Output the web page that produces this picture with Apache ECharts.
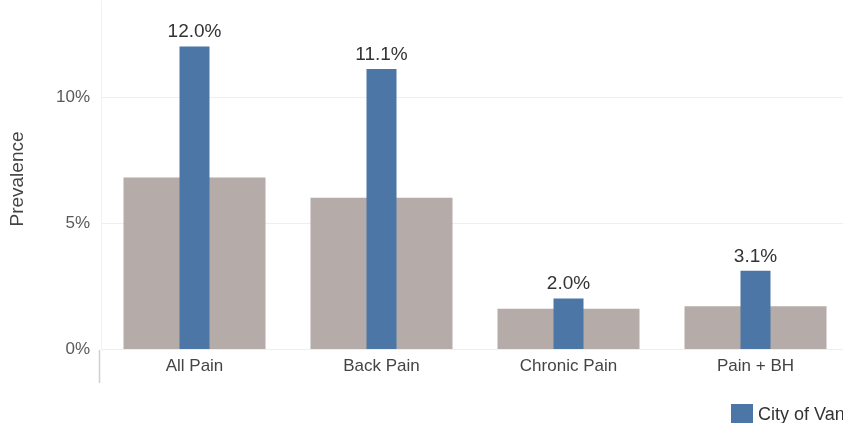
<!DOCTYPE html>
<html>
<head>
<meta charset="utf-8">
<script src="https://cdn.jsdelivr.net/npm/echarts@6/dist/echarts.min.js"></script>
<style>html,body{margin:0;padding:0;background:#fff;}#c{width:843px;height:423px;}</style>
</head>
<body>
<div id="c"></div>
<script>
const categories = ['All Pain', 'Back Pain', 'Chronic Pain', 'Pain + BH'];
const comparisonValues = [6.8, 6.0, 1.6, 1.7];
const cityValues = [12.0, 11.1, 2.0, 3.1];
const yTicks = [0, 5, 10];
const citySeriesName = 'City of Vancouver';
const comparisonSeriesName = 'Comparison';

const FONT = 'Liberation Sans, Arial, sans-serif';
const chart = echarts.init(document.getElementById('c'), null, {renderer: 'canvas'});
chart.setOption({
  animation: false,
  textStyle: {fontFamily: FONT},
  grid: {left: 101, right: -6, top: 1, bottom: 74, containLabel: false, outerBoundsMode: 'none'},
  legend: {
    data: [citySeriesName],
    left: 726, top: 399,
    icon: 'rect', itemWidth: 22, itemHeight: 22, itemGap: 10,
    textStyle: {fontSize: 18, color: '#333'}
  },
  xAxis: [{
    type: 'category',
    data: categories,
    axisLine: {show: false},
    axisTick: {show: false},
    axisLabel: {fontSize: 17, color: '#444', margin: 9}
  }, {
    type: 'category',
    data: categories,
    show: false
  }],
  yAxis: {
    type: 'value',
    min: yTicks[0], max: 13.8, interval: 5,
    axisLine: {show: true, lineStyle: {color: '#f2f2f2'}},
    axisTick: {show: false},
    splitLine: {showMaxLine: false, lineStyle: {color: '#eeeeee'}},
    axisLabel: {fontSize: 17, color: '#595959', margin: 11,
      formatter: v => yTicks.indexOf(v) >= 0 ? v + '%' : ''}
  },
  graphic: [
    {type: 'line', shape: {x1: 99.5, y1: 350, x2: 99.5, y2: 383}, style: {stroke: '#cfcfcf', lineWidth: 1.5}},
    {type: 'text', x: 18, y: 179, rotation: Math.PI / 2,
      style: {text: 'Prevalence', fontSize: 19, fill: '#444', align: 'center', verticalAlign: 'middle', fontFamily: FONT}}
  ],
  series: [
    {
      name: comparisonSeriesName, type: 'bar', data: comparisonValues,
      xAxisIndex: 1,
      barWidth: 142,
      itemStyle: {color: '#b5aca9'},
      z: 1
    },
    {
      name: citySeriesName, type: 'bar', data: cityValues,
      xAxisIndex: 0,
      barWidth: 30,
      itemStyle: {color: '#4b76a6'},
      label: {show: true, position: 'top', distance: 5, fontSize: 19, color: '#333',
        formatter: p => p.value.toFixed(1) + '%'},
      z: 2
    }
  ]
});
</script>
</body>
</html>
